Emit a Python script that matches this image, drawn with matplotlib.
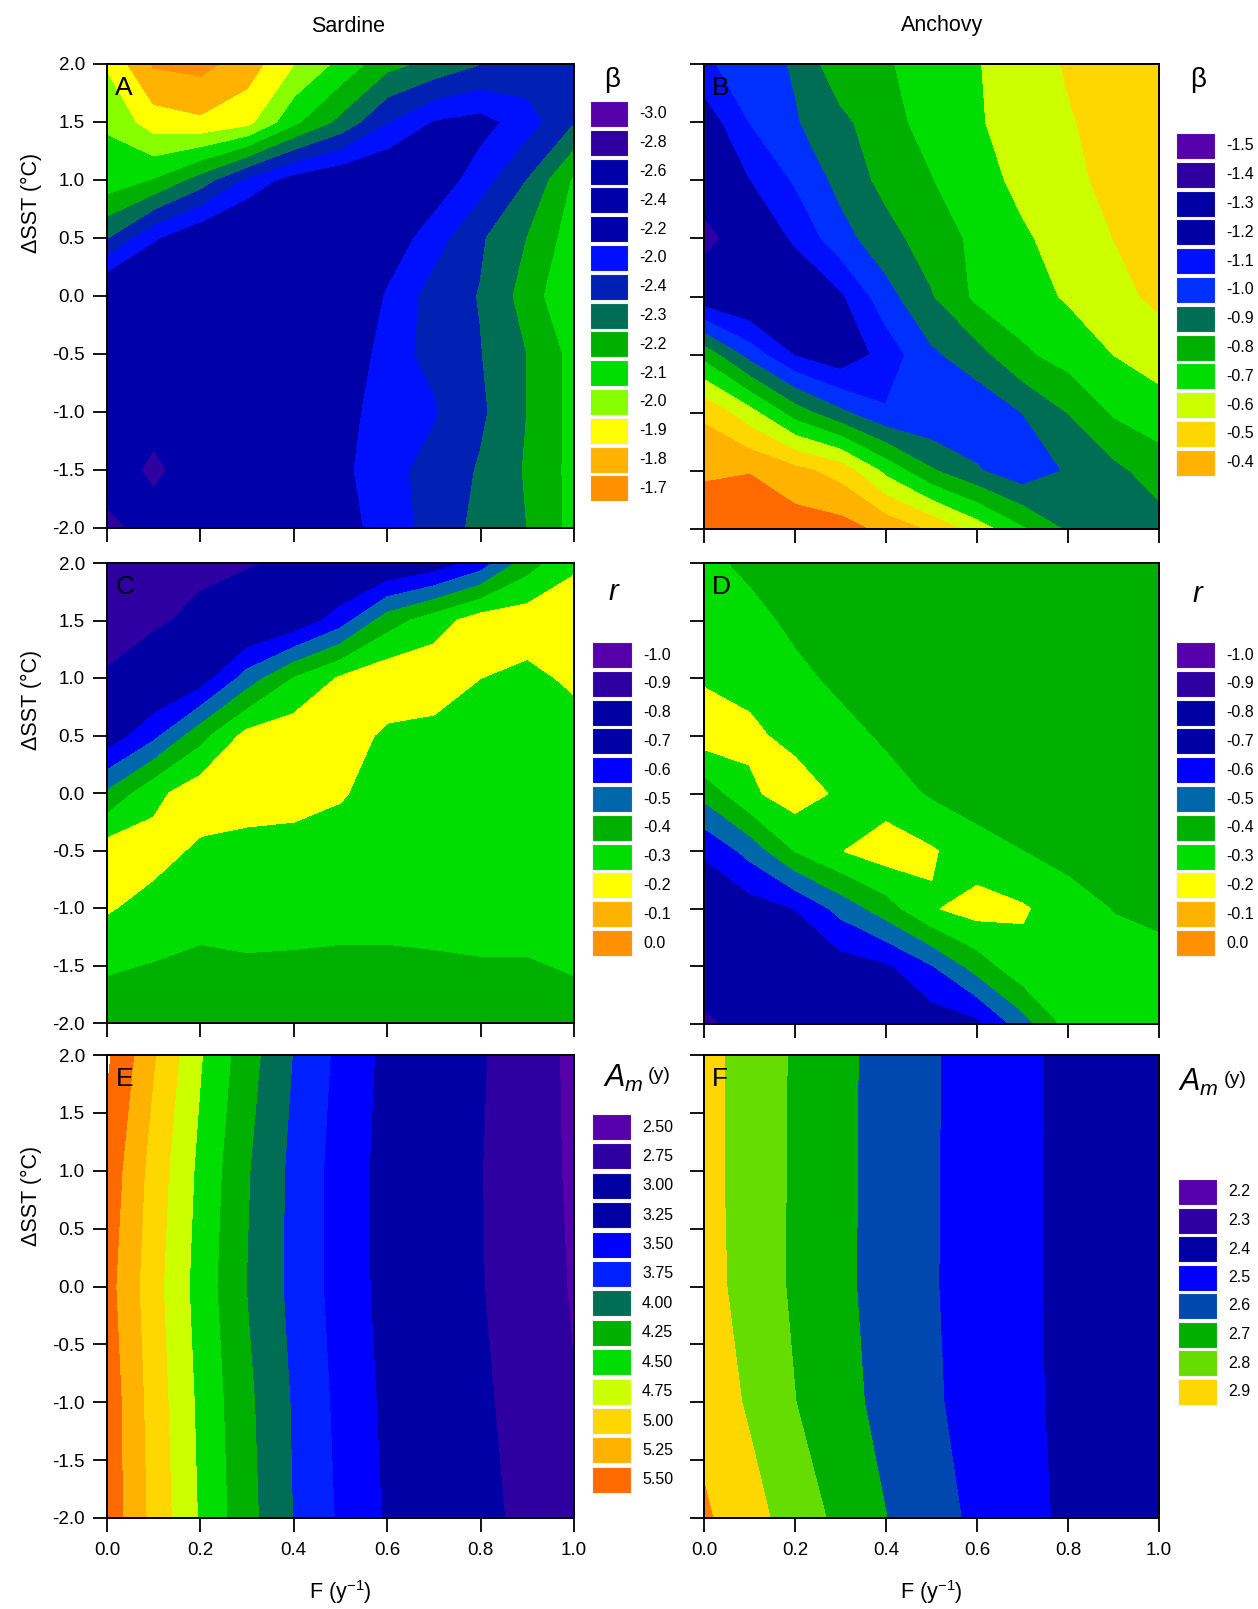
import numpy as np
import matplotlib.pyplot as plt
from matplotlib.patches import Rectangle

plt.rcParams['font.family'] = ['Liberation Sans', 'DejaVu Sans']
plt.rcParams['axes.unicode_minus'] = False
plt.rcParams['mathtext.fontset'] = 'custom'
plt.rcParams['mathtext.rm'] = 'Liberation Sans'
plt.rcParams['mathtext.it'] = 'Liberation Sans:italic'

W, H = 1258, 1609

# grid of the model runs
F_vals = [0.0, 0.1, 0.2, 0.3, 0.4, 0.5, 0.6, 0.7, 0.8, 0.9, 1.0]
sst_fine = [2.0, 1.5, 1.0, 0.5, 0.0, -0.5, -1.0, -1.5, -2.0]
sst_coarse = [2.0, 1.0, 0.0, -1.0, -2.0]

# values are band numbers: 0 = top swatch of the panel's legend
beta_sardine = [
    [10.6, 12.6, 12.8, 12.0, 10.5, 9.2, 7.8, 7.2, 6.5, 6.2, 6.0],
    [9.6, 11.0, 11.3, 10.8, 8.7, 7.2, 5.5, 4.4, 4.1, 5.0, 6.4],
    [9.1, 8.4, 7.0, 5.2, 4.0, 3.5, 3.3, 3.8, 5.0, 6.5, 8.6],
    [6.5, 4.6, 3.5, 3.0, 3.0, 3.0, 3.8, 5.0, 6.35, 7.5, 9.0],
    [3.0, 3.0, 3.0, 3.0, 3.0, 3.0, 4.6, 5.9, 6.55, 7.9, 9.5],
    [3.0, 3.0, 3.0, 3.0, 3.0, 3.0, 5.2, 5.7, 6.45, 7.5, 8.8],
    [3.0, 2.5, 3.0, 3.0, 3.0, 4.07, 5.0, 5.4, 6.3, 7.5, 8.8],
    [3.0, 0.9, 3.0, 3.0, 3.0, 4.2, 5.2, 5.8, 6.6, 7.6, 8.8],
    [0.6, 2.7, 3.0, 3.0, 3.0, 4.0, 5.0, 5.85, 6.8, 7.5, 8.8],
]
beta_anchovy = [
    [4.3, 5.0, 5.6, 7.2, 7.4, 7.9, 8.45, 8.9, 9.6, 10.0, 10.2],
    [2.8, 4.5, 5.4, 6.2, 7.2, 7.8, 8.4, 8.9, 9.4, 9.9, 10.2],
    [2.5, 3.45, 4.6, 5.8, 6.8, 7.45, 8.1, 8.75, 9.25, 9.75, 10.2],
    [0.9, 2.5, 3.65, 5.1, 6.1, 7.0, 7.7, 8.35, 8.9, 9.5, 10.0],
    [2.7, 2.3, 2.5, 3.3, 5.1, 6.4, 7.7, 8.1, 8.6, 9.2, 9.7],
    [7.1, 5.06, 3.4, 2.7, 3.9, 5.3, 6.1, 7.3, 7.9, 8.5, 9.0],
    [10.3, 8.85, 7.0, 5.7, 4.6, 4.5, 4.7, 5.5, 6.5, 7.6, 8.0],
    [11.3, 11.45, 10.8, 10.1, 8.2, 6.6, 5.6, 4.8, 5.6, 6.2, 7.0],
    [12.3, 12.2, 12.0, 11.9, 11.2, 10.3, 9.0, 7.6, 6.3, 6.0, 6.0],
]
r_sardine = [
    [1.0, 1.1, 1.2, 1.4, 1.7, 2.0, 2.3, 2.8, 3.9, 6.0, 7.3],
    [1.0, 1.3, 1.8, 2.2, 2.7, 4.0, 6.0, 7.0, 8.0, 8.1, 8.2],
    [1.6, 2.3, 2.9, 4.9, 6.5, 7.6, 8.2, 8.2, 7.5, 7.2, 7.7],
    [2.8, 4.2, 6.1, 7.8, 8.1, 8.0, 7.3, 7.1, 7.0, 7.0, 7.0],
    [5.6, 7.2, 8.1, 8.2, 8.0, 7.6, 7.0, 7.0, 7.0, 7.0, 7.0],
    [8.0, 7.9, 7.3, 7.0, 7.0, 7.0, 7.0, 7.0, 7.0, 7.0, 7.0],
    [7.6, 7.1, 7.0, 7.0, 7.0, 7.0, 7.0, 7.0, 7.0, 7.0, 7.0],
    [6.6, 6.45, 6.2, 6.35, 6.3, 6.2, 6.2, 6.3, 6.4, 6.4, 6.6],
    [6.0, 6.0, 6.0, 6.0, 6.0, 6.0, 6.0, 6.0, 6.0, 6.0, 6.0],
]
r_anchovy = [
    [6.8, 6.2, 6.0, 6.0, 6.0, 6.0, 6.0, 6.0, 6.0, 6.0, 6.0],
    [7.2, 6.9, 6.2, 6.0, 6.0, 6.0, 6.0, 6.0, 6.0, 6.0, 6.0],
    [7.4, 7.2, 6.8, 6.2, 6.0, 6.0, 6.0, 6.0, 6.0, 6.0, 6.0],
    [8.0, 7.7, 7.2, 6.9, 6.3, 6.0, 6.0, 6.0, 6.0, 6.0, 6.0],
    [5.8, 7.3, 8.0, 7.3, 7.0, 6.35, 6.0, 6.0, 6.0, 6.0, 6.0],
    [3.6, 4.8, 6.5, 7.45, 8.0, 7.6, 6.9, 6.5, 6.1, 6.0, 6.0],
    [2.8, 3.0, 3.5, 4.8, 6.0, 7.4, 7.9, 7.6, 7.0, 6.45, 6.2],
    [2.3, 2.4, 2.6, 3.0, 3.3, 4.4, 5.9, 7.2, 7.3, 7.0, 6.9],
    [1.2, 2.0, 2.3, 2.5, 2.7, 2.9, 3.2, 5.0, 6.8, 7.0, 7.0],
]
am_sardine = [
    [12.7, 10.56, 8.56, 6.9, 5.44, 4.22, 3.22, 2.42, 1.58, 0.93, 0.3],
    [12.15, 10.07, 8.23, 6.57, 5.22, 4.07, 3.13, 2.32, 1.52, 0.92, 0.34],
    [11.86, 9.86, 8.05, 6.46, 5.2, 4.08, 3.15, 2.34, 1.54, 0.97, 0.41],
    [12.12, 10.03, 8.25, 6.7, 5.38, 4.22, 3.27, 2.52, 1.68, 1.05, 0.53],
    [12.14, 10.16, 8.37, 6.82, 5.45, 4.34, 3.37, 2.58, 1.8, 1.21, 0.74],
]
am_anchovy = [
    [6.83, 6.09, 5.37, 4.72, 4.14, 3.59, 3.12, 2.67, 2.3, 2.0, 1.7],
    [6.82, 6.08, 5.35, 4.71, 4.13, 3.58, 3.11, 2.66, 2.29, 2.0, 1.7],
    [6.89, 6.1, 5.34, 4.7, 4.12, 3.57, 3.11, 2.66, 2.29, 2.0, 1.7],
    [7.19, 6.35, 5.51, 4.82, 4.2, 3.63, 3.14, 2.68, 2.3, 2.0, 1.7],
    [7.62, 6.9, 6.0, 5.26, 4.51, 3.88, 3.29, 2.78, 2.32, 2.0, 1.7],
]

beta_sardine_labels = ['-3.0', '-2.8', '-2.6', '-2.4', '-2.2', '-2.0', '-2.4',
                       '-2.3', '-2.2', '-2.1', '-2.0', '-1.9', '-1.8', '-1.7']
beta_anchovy_labels = ['-1.5', '-1.4', '-1.3', '-1.2', '-1.1', '-1.0', '-0.9',
                       '-0.8', '-0.7', '-0.6', '-0.5', '-0.4']
r_labels = ['-1.0', '-0.9', '-0.8', '-0.7', '-0.6', '-0.5', '-0.4', '-0.3',
            '-0.2', '-0.1', '0.0']
am_sardine_labels = ['2.50', '2.75', '3.00', '3.25', '3.50', '3.75', '4.00',
                     '4.25', '4.50', '4.75', '5.00', '5.25', '5.50']
am_anchovy_labels = ['2.2', '2.3', '2.4', '2.5', '2.6', '2.7', '2.8', '2.9']

# band colours (a last colour past the legend is drawn but not listed)
beta_sardine_colors = ['#5500aa', '#2e00a2', '#0000a8', '#0000a8', '#0000a8',
                       '#0010ff', '#0020b4', '#006d55', '#00b000', '#00dd00',
                       '#88ff00', '#ffff00', '#ffb300', '#ff9000']
beta_anchovy_colors = ['#5500aa', '#2e00a2', '#0000a4', '#0000a4', '#0010ff',
                       '#0030ff', '#006d55', '#00b000', '#00dd00', '#ccff00',
                       '#ffd700', '#ffb300', '#ff6a00']
r_colors = ['#5500aa', '#2e00a2', '#0000a4', '#0000a4', '#0000ff', '#0068aa',
            '#00b000', '#00dd00', '#ffff00', '#ffb300', '#ff9000']
am_sardine_colors = ['#5500aa', '#2e00a2', '#0000a4', '#0000a4', '#0000ff',
                     '#0020ff', '#006d55', '#00b000', '#00dd00', '#ccff00',
                     '#ffd700', '#ffb300', '#ff6a00']
am_anchovy_colors = ['#5500aa', '#2e00a2', '#0000a4', '#0000ff', '#0048b0',
                     '#00b000', '#66dd00', '#ffd700', '#ff8000']

fig = plt.figure(figsize=(W / 100, H / 100), dpi=100)


def fx(x):
    return x / W


def fy(y):
    return 1 - y / H


def panel(box, sst, z, colors, letter, left_labels, bottom_labels):
    left, top, w, h = box
    ax = fig.add_axes([fx(left), fy(top + h), w / W, h / H])
    lev = np.arange(len(colors) + 1) - 0.5
    cs = ax.contourf(F_vals, sst, np.array(z), levels=lev, colors=colors)
    # hide the seams between neighbouring bands
    cs.set_edgecolor('face')
    cs.set_linewidth(0.6)
    ax.set_xlim(0, 1)
    ax.set_ylim(-2, 2)
    ax.set_xticks(np.arange(0, 1.01, 0.2))
    ax.set_xticklabels(['%.1f' % v for v in np.arange(0, 1.01, 0.2)])
    ax.set_yticks(np.arange(-2, 2.01, 0.5))
    ax.set_yticklabels(['%.1f' % v for v in np.arange(-2, 2.01, 0.5)])
    ax.tick_params(direction='out', length=10, width=1.3, labelsize=13.5,
                   labelleft=left_labels, labelbottom=bottom_labels)
    ax.tick_params(axis='y', pad=6)
    ax.tick_params(axis='x', pad=7)
    for s in ax.spines.values():
        s.set_linewidth(1.4)
        s.set_zorder(5)
    ax.text(0.018, 0.975, letter, transform=ax.transAxes, ha='left', va='top',
            fontsize=19)
    return ax


def legend(x, top, pitch, colors, labels, sw=39, sh=26):
    for i, lab in enumerate(labels):
        y = top + i * pitch
        fig.patches.append(Rectangle((fx(x), fy(y + sh)), sw / W, sh / H,
                                     transform=fig.transFigure,
                                     facecolor=colors[i], edgecolor='#f4f4f4',
                                     linewidth=0.8))
        fig.text(fx(x + sw + 11), fy(y + sh / 2), lab, ha='left', va='center',
                 fontsize=11.5)


L_X, L_W = 107, 467
R_X, R_W = 704, 455

panel((L_X, 64, L_W, 464), sst_fine, beta_sardine, beta_sardine_colors, 'A', True, False)
panel((R_X, 64, R_W, 465), sst_fine, beta_anchovy, beta_anchovy_colors, 'B', False, False)
panel((L_X, 563, L_W, 460), sst_fine, r_sardine, r_colors, 'C', True, False)
panel((R_X, 563, R_W, 461), sst_fine, r_anchovy, r_colors, 'D', False, False)
panel((L_X, 1055, L_W, 463), sst_coarse, am_sardine, am_sardine_colors, 'E', True, True)
panel((R_X, 1055, R_W, 463), sst_coarse, am_anchovy, am_anchovy_colors, 'F', False, True)

legend(590, 101, 28.8, beta_sardine_colors, beta_sardine_labels, sw=38)
legend(1176, 133, 28.8, beta_anchovy_colors, beta_anchovy_labels)
legend(592, 642, 28.8, r_colors, r_labels, sw=40)
legend(1176, 642, 28.8, r_colors, r_labels)
legend(592, 1114, 29.4, am_sardine_colors, am_sardine_labels)
legend(1178, 1179, 28.5, am_anchovy_colors, am_anchovy_labels)

fig.text(fx(612), fy(80), 'β', ha='center', va='center', fontsize=20)
fig.text(fx(1198), fy(80), 'β', ha='center', va='center', fontsize=20)
fig.text(fx(614), fy(592), r'$r$', ha='center', va='center', fontsize=21)
fig.text(fx(1198), fy(594), r'$r$', ha='center', va='center', fontsize=21)
fig.text(fx(603), fy(1078), r'$A_m$', ha='left', va='center', fontsize=22)
fig.text(fx(648), fy(1076), '(y)', ha='left', va='center', fontsize=14)
fig.text(fx(1178), fy(1082), r'$A_m$', ha='left', va='center', fontsize=22)
fig.text(fx(1224), fy(1080), '(y)', ha='left', va='center', fontsize=14)

fig.text(fx(348), fy(26), 'Sardine', ha='center', va='center', fontsize=15.5)
fig.text(fx(942), fy(26), 'Anchovy', ha='center', va='center', fontsize=15.5)

for yc in [203, 700, 1196]:
    fig.text(fx(31), fy(yc), 'ΔSST (°C)', rotation=90, ha='center',
             va='center', fontsize=15.5)
for xc in [L_X + L_W / 2, R_X + R_W / 2]:
    fig.text(fx(xc), fy(1592), r'F (y$^{-1}$)', ha='center', va='center',
             fontsize=15.5)

fig.savefig('out.png', dpi=100)
